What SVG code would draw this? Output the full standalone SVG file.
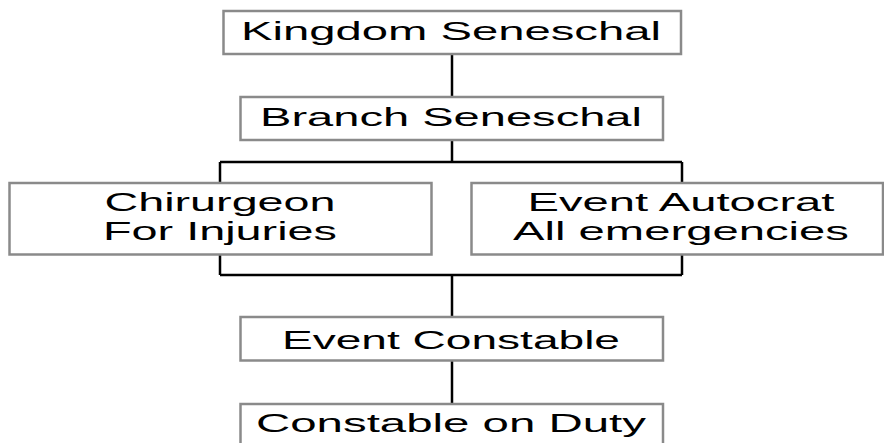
<svg xmlns="http://www.w3.org/2000/svg" width="884" height="443" viewBox="0 0 884 443">
  <style>
    .box { fill: #ffffff; stroke: #8a8a8a; stroke-width: 2.5; }
    .lbl { font-family: "Liberation Sans", Arial, sans-serif; font-size: 26.5px; fill: #000000; text-anchor: middle; }
    .lbl2 { font-size: 25.5px; }
    .wire { fill: none; stroke: #000000; stroke-width: 2.5; }
  </style>
  <rect width="884" height="443" fill="#ffffff"/>

  <!-- connectors -->
  <g id="connectors">
    <path class="wire" d="M452 54 V97"/>
    <path class="wire" d="M452 140 V162 M220 162 H682 M220 162 V183 M682 162 V183"/>
    <path class="wire" d="M220 254 V275 M682 254 V275 M220 275 H682 M452 275 V317"/>
    <path class="wire" d="M452 360 V404"/>
  </g>

  <g id="kingdom-seneschal">
    <rect class="box" x="223.5" y="11" width="457.5" height="43"/>
    <text class="lbl" x="451" y="40" textLength="420" lengthAdjust="spacingAndGlyphs">Kingdom Seneschal</text>
  </g>

  <g id="branch-seneschal">
    <rect class="box" x="240.5" y="97" width="422.5" height="43"/>
    <text class="lbl" x="451" y="126" textLength="382" lengthAdjust="spacingAndGlyphs">Branch Seneschal</text>
  </g>

  <g id="chirurgeon">
    <rect class="box" x="9.5" y="183" width="422" height="71.5"/>
    <text class="lbl lbl2" x="220" y="210.5" textLength="231" lengthAdjust="spacingAndGlyphs">Chirurgeon</text>
    <text class="lbl lbl2" x="220" y="239.5" textLength="234" lengthAdjust="spacingAndGlyphs">For Injuries</text>
  </g>

  <g id="event-autocrat">
    <rect class="box" x="471.5" y="183" width="411.5" height="71.5"/>
    <text class="lbl lbl2" x="681" y="210.5" textLength="307" lengthAdjust="spacingAndGlyphs">Event Autocrat</text>
    <text class="lbl lbl2" x="681" y="239.5" textLength="336" lengthAdjust="spacingAndGlyphs">All emergencies</text>
  </g>

  <g id="event-constable">
    <rect class="box" x="240.5" y="317" width="422.5" height="43.5"/>
    <text class="lbl" x="451" y="349" textLength="338" lengthAdjust="spacingAndGlyphs">Event Constable</text>
  </g>

  <g id="constable-on-duty">
    <rect class="box" x="240.5" y="404" width="422.5" height="50"/>
    <text class="lbl" x="451" y="432" textLength="390" lengthAdjust="spacingAndGlyphs">Constable on Duty</text>
  </g>
</svg>
